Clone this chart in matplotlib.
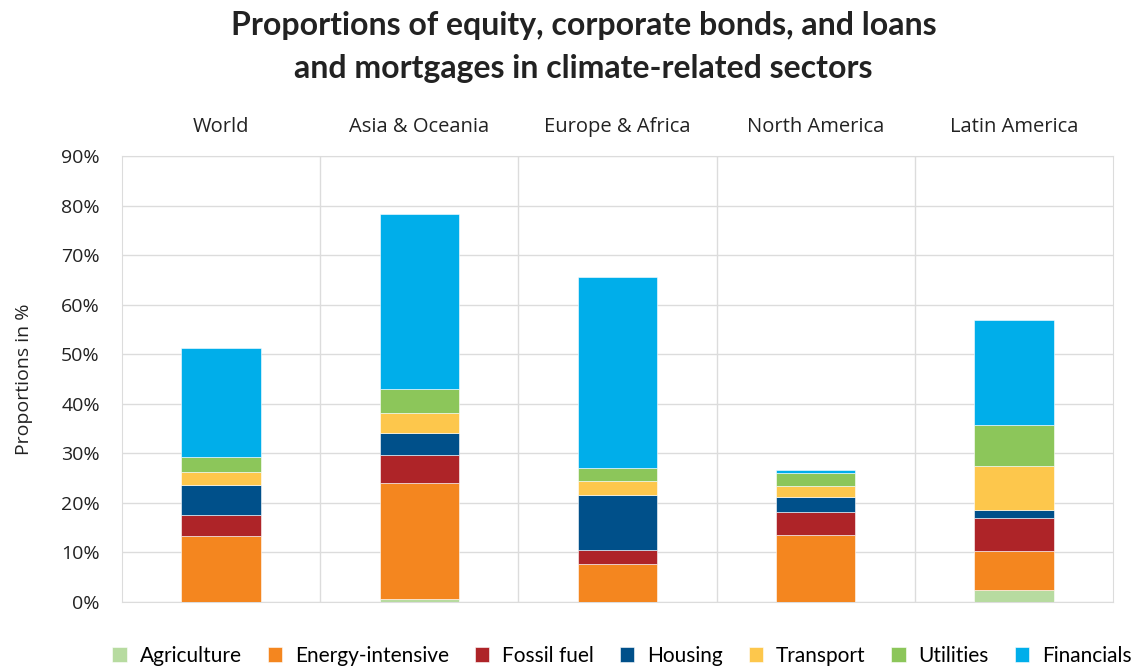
import matplotlib
matplotlib.use("Agg")
import matplotlib.pyplot as plt
import numpy as np

regions = ["World", "Asia & Oceania", "Europe & Africa", "North America", "Latin America"]
sectors = ["Agriculture", "Energy-intensive", "Fossil fuel", "Housing", "Transport", "Utilities", "Financials"]

# proportions in %
agriculture = [0.0, 0.6, 0.0, 0.0, 2.4]
energy_intensive = [13.4, 23.4, 7.7, 13.6, 7.8]
fossil_fuel = [4.1, 5.6, 2.8, 4.6, 6.8]
housing = [6.1, 4.6, 11.1, 3.0, 1.6]
transport = [2.7, 3.9, 2.75, 2.2, 8.9]
utilities = [2.9, 4.9, 2.65, 2.6, 8.3]
financials = [22.1, 35.3, 38.5, 0.6, 21.1]

colors = ["#b7dba0", "#f4861f", "#ae2428", "#00508a", "#fdc74c", "#8cc65a", "#00aeea"]
series = [agriculture, energy_intensive, fossil_fuel, housing, transport, utilities, financials]

fig = plt.figure(figsize=(11.35, 6.70), dpi=100)
ax = fig.add_axes([0.1075, 0.1015, 0.8731, 0.6657])

x = np.arange(len(regions))
bottom = np.zeros(len(regions))
for name, vals, c in zip(sectors, series, colors):
    ax.bar(x, vals, 0.4, bottom=bottom, color=c, label=name, zorder=3,
           edgecolor="white", linewidth=0.4)
    bottom += np.array(vals)

ax.set_xlim(-0.5, len(regions) - 0.5)
ax.set_ylim(0, 90)
ax.set_yticks(range(0, 91, 10))
ax.set_yticklabels([f"{v}%" for v in range(0, 91, 10)], fontsize=14,
                   family="Open Sans", color="#222222")
ax.yaxis.grid(True, color="#dcdcdc", linewidth=1, zorder=0)
for b in np.arange(0.5, len(regions) - 0.5, 1):
    ax.axvline(b, color="#dcdcdc", linewidth=1, zorder=0)
for s in ax.spines.values():
    s.set_color("#dcdcdc")
ax.tick_params(length=0)
ax.tick_params(axis="y", pad=16)

ax.xaxis.tick_top()
ax.set_xticks(x)
ax.set_xticklabels(regions, fontsize=14.5, family="Open Sans", color="#222222")
ax.tick_params(axis="x", pad=14)

ax.set_ylabel("Proportions in %", fontsize=14, family="Open Sans", color="#222222", labelpad=20)

fig.text(0.514, 0.962, "Proportions of equity, corporate bonds, and loans",
         ha="center", va="center", fontsize=23, fontweight="bold", family="Lato", color="#222222")
fig.text(0.514, 0.898, "and mortgages in climate-related sectors",
         ha="center", va="center", fontsize=23, fontweight="bold", family="Lato", color="#222222")

fig.legend(loc="lower center", bbox_to_anchor=(0.548, -0.022), ncol=7, frameon=False,
           prop={"family": "Lato", "size": 15}, handlelength=0.7, handleheight=0.7,
           handletextpad=0.6, columnspacing=1.25)

fig.savefig("out.png", dpi=100)
